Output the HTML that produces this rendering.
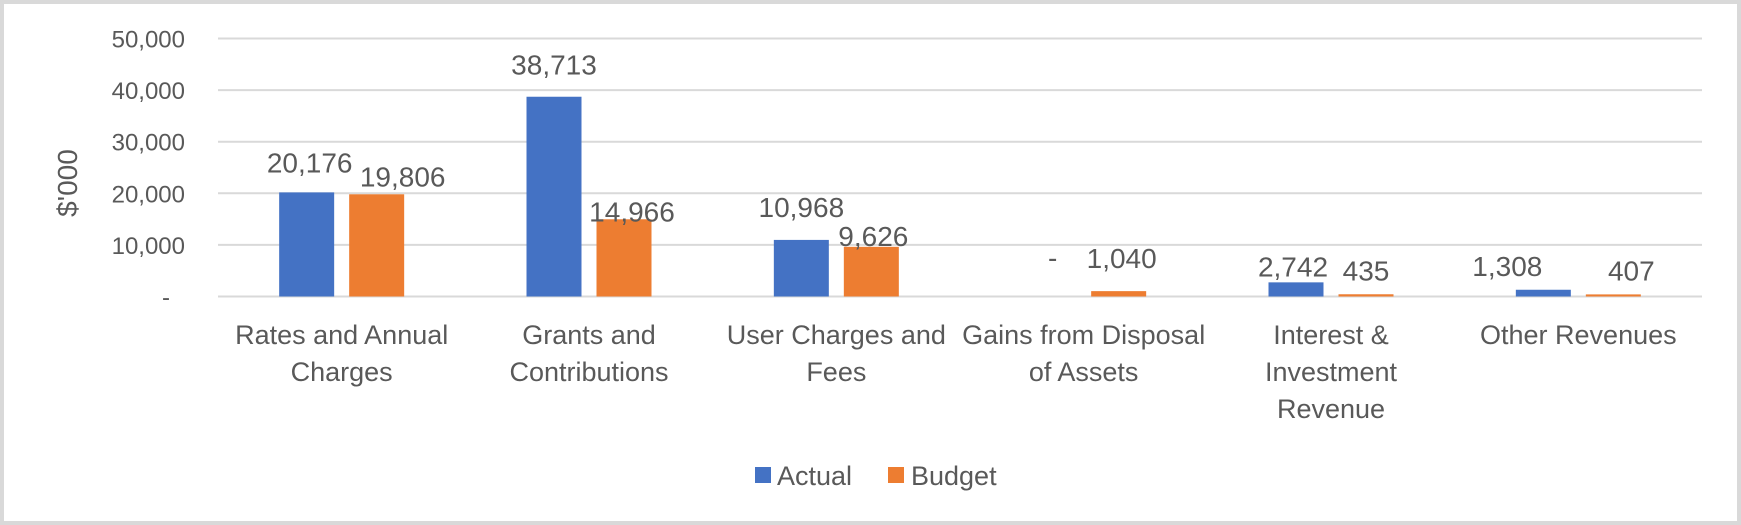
<!DOCTYPE html>
<html><head><meta charset="utf-8"><style>
html,body{margin:0;padding:0;background:#fff}
#wrap{width:1741px;height:525px;box-sizing:border-box;border:4px solid #d9d9d9;position:relative;background:#fff}
svg{position:absolute;left:-4px;top:-4px}
text{font-family:"Liberation Sans",sans-serif;fill:#595959}
</style></head><body>
<div id="wrap">
<svg id="chart" width="1741" height="525"></svg>
</div>
<script>
const categories=[["Rates and Annual","Charges"],["Grants and","Contributions"],["User Charges and","Fees"],["Gains from Disposal","of Assets"],["Interest &","Investment","Revenue"],["Other Revenues"]];
const actual=[20176,38713,10968,0,2742,1308];
const budget=[19806,14966,9626,1040,435,407];
const actualLabels=["20,176","38,713","10,968","-","2,742","1,308"];
const budgetLabels=["19,806","14,966","9,626","1,040","435","407"];
const yTicks=[0,10000,20000,30000,40000,50000];
const yTickLabels=["-","10,000","20,000","30,000","40,000","50,000"];
// manual label placement offsets (style, not data)
const actualLabelDx=[3,0,0,4,-3,-36], actualLabelDy=[30,32,33,39,16,24];
const budgetLabelDx=[26,8,2,3,0,18], budgetLabelDy=[18,8,11,33,24,24];
const NS="http://www.w3.org/2000/svg";
const svg=document.getElementById('chart');
const X0=218,X1=1702,Y0=296.5,Y1=38.5,YMAX=50000;
const cw=(X1-X0)/categories.length;
const bw=55,gap=15;
function y(v){return Y0-(v/YMAX)*(Y0-Y1);}
function cx(i){return X0+cw*(i+0.5);}
function mk(t,a,p){const e=document.createElementNS(NS,t);for(const k in a)e.setAttribute(k,a[k]);(p||svg).appendChild(e);return e;}
yTicks.forEach((v,i)=>{
  const g=mk('line',{x1:X0,x2:X1,y1:y(v),y2:y(v),stroke:'#d9d9d9','stroke-width':2});
  
  
  const t=mk('text',{x:i==0?170:185,y:y(v)+9,'text-anchor':'end','font-size':24});
  t.textContent=yTickLabels[i];
  
  
});
const yt=mk('text',{x:0,y:0,'text-anchor':'middle','font-size':28,transform:'translate(77,183) rotate(-90)'});
yt.textContent="$'000";


categories.forEach((c,i)=>{
  const c0=cx(i);
  const ax=c0-gap/2-bw, bx=c0+gap/2;
  const ra=mk('rect',{x:ax,y:y(actual[i]),width:bw,height:Y0-y(actual[i]),fill:'#4472C4'});
  
  
  const rb=mk('rect',{x:bx,y:y(budget[i]),width:bw,height:Y0-y(budget[i]),fill:'#ED7D31'});
  
  
  const la=mk('text',{x:ax+bw/2+actualLabelDx[i],y:y(actual[i])-actualLabelDy[i]+10,'text-anchor':'middle','font-size':28,fill:'#404040'});
  la.textContent=actualLabels[i];
  
  
  const lb=mk('text',{x:bx+bw/2+budgetLabelDx[i],y:y(budget[i])-budgetLabelDy[i]+10,'text-anchor':'middle','font-size':28,fill:'#404040'});
  lb.textContent=budgetLabels[i];
  
  
  c.forEach((line,j)=>{
    const t=mk('text',{x:c0,y:344+j*37,'text-anchor':'middle','font-size':27});
    t.textContent=line;
    
    
  });
});
const lg=mk('g',{});


const s1=mk('rect',{x:755,y:467,width:16,height:16,fill:'#4472C4'},lg);


const t1=mk('text',{x:777,y:485,'font-size':27},lg);
t1.textContent='Actual';


const s2=mk('rect',{x:888,y:467,width:16,height:16,fill:'#ED7D31'},lg);


const t2=mk('text',{x:911,y:485,'font-size':27},lg);
t2.textContent='Budget';


</script>
</body></html>
